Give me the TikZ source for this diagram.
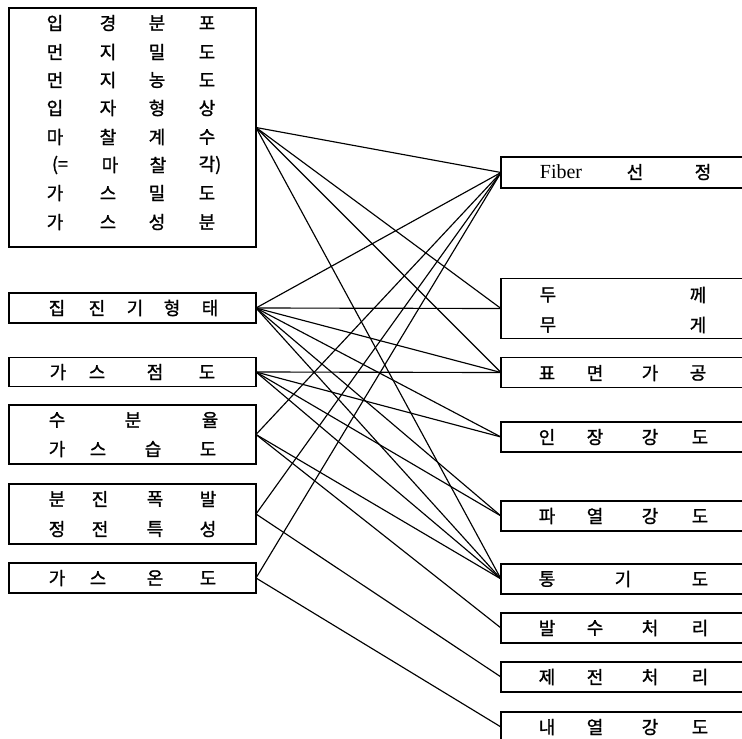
\documentclass[tikz,border=0pt]{standalone}
\usepackage{fontspec}
\setmainfont{Liberation Serif}
\newfontfamily\kr[FakeBold=1.2]{Noto Sans CJK KR}
\newcommand\chrow[3]{\foreach \xx/\cc [count=\ii] in {#3} {\node[ch] (#1-\ii) at (\xx,#2) {\cc};}}
\begin{document}
\begin{tikzpicture}[x=1pt,y=-1pt,
  lbox/.style={draw, line width=1.2pt, minimum width=247pt, inner sep=0pt, outer sep=0pt},
  rbox/.style={draw, line width=1.2pt, minimum width=280pt, anchor=west, inner sep=0pt, outer sep=0pt},
  ch/.style={font=\kr\fontsize{18}{18}\selectfont, inner sep=0pt},
  lat/.style={font=\fontsize{20}{20}\selectfont, inner sep=0pt},
  link/.style={line width=1.15pt}]
\useasboundingbox (0,0) rectangle (742,739);
\clip (0,0) rectangle (742,739);
% left boxes
\node[lbox, minimum height=239pt] (A) at (132.5,127.5) {};
\node[lbox, minimum height=30pt] (B) at (132.5,308) {};
\node[lbox, minimum height=29pt] (C) at (132.5,372) {};
\node[lbox, minimum height=59pt] (D) at (132.5,434.5) {};
\node[lbox, minimum height=60pt] (E) at (132.5,514) {};
\node[lbox, minimum height=30pt] (F) at (132.5,578) {};
% right boxes
\node[rbox, minimum height=31pt] (R1) at (501,172.5) {};
\node[rbox, minimum height=60pt] (R2) at (501,308.5) {};
\node[rbox, minimum height=30pt] (R3) at (501,372.5) {};
\node[rbox, minimum height=30pt] (R4) at (501,437) {};
\node[rbox, minimum height=30pt] (R5) at (501,516) {};
\node[rbox, minimum height=30pt] (R6) at (501,579) {};
\node[rbox, minimum height=30pt] (R7) at (501,628) {};
\node[rbox, minimum height=30pt] (R8) at (501,677) {};
\node[rbox, minimum height=30pt] (R9) at (501,727) {};
% left texts
\chrow{a1}{23}{55/입,108/경,157/분,207/포}
\chrow{a2}{52}{55/먼,108/지,157/밀,207/도}
\chrow{a3}{80}{55/먼,108/지,157/농,207/도}
\chrow{a4}{108}{55/입,108/자,157/형,207/상}
\chrow{a5}{137}{55/마,108/찰,157/계,207/수}
\chrow{a6}{165}{60/{(=},110/마,158/찰,210/{각)}}
\chrow{a7}{193}{55/가,108/스,157/밀,207/도}
\chrow{a8}{222}{55/가,108/스,157/성,207/분}
\chrow{b1}{308}{57/집,97/진,135/기,172/형,210/태}
\chrow{c1}{372}{58/가,97/스,155/점,207/도}
\chrow{d1}{420}{57/수,133/분,210/율}
\chrow{d2}{449}{57/가,98/스,153/습,208/도}
\chrow{e1}{499}{57/분,100/진,155/폭,208/발}
\chrow{e2}{529}{57/정,100/전,155/특,208/성}
\chrow{f1}{578}{57/가,98/스,155/온,208/도}
% right texts
\node[lat] (fiber) at (561,172) {Fiber};
\chrow{r1}{172}{635/선,703/정}
\chrow{r2a}{295}{548/두,698/께}
\chrow{r2b}{325}{548/무,698/게}
\chrow{r3}{373}{547/표,595/면,650/가,698/공}
\chrow{r4}{437}{547/인,595/장,650/강,700/도}
\chrow{r5}{516}{547/파,595/열,650/강,700/도}
\chrow{r6}{579}{547/통,623/기,700/도}
\chrow{r7}{628}{547/발,595/수,650/처,700/리}
\chrow{r8}{677}{547/제,595/전,650/처,700/리}
\chrow{r9}{727}{547/내,595/열,650/강,700/도}
% connectors
\foreach \s/\t in {A/R1,A/R2,A/R3,A/R6,B/R1,B/R2,B/R3,B/R4,B/R5,B/R6,C/R3,C/R4,C/R5,C/R6,D/R1,D/R6,D/R7,E/R1,E/R8,F/R1,F/R9}
  \draw[link] (\s.east) -- (\t.west);
\end{tikzpicture}
\end{document}
